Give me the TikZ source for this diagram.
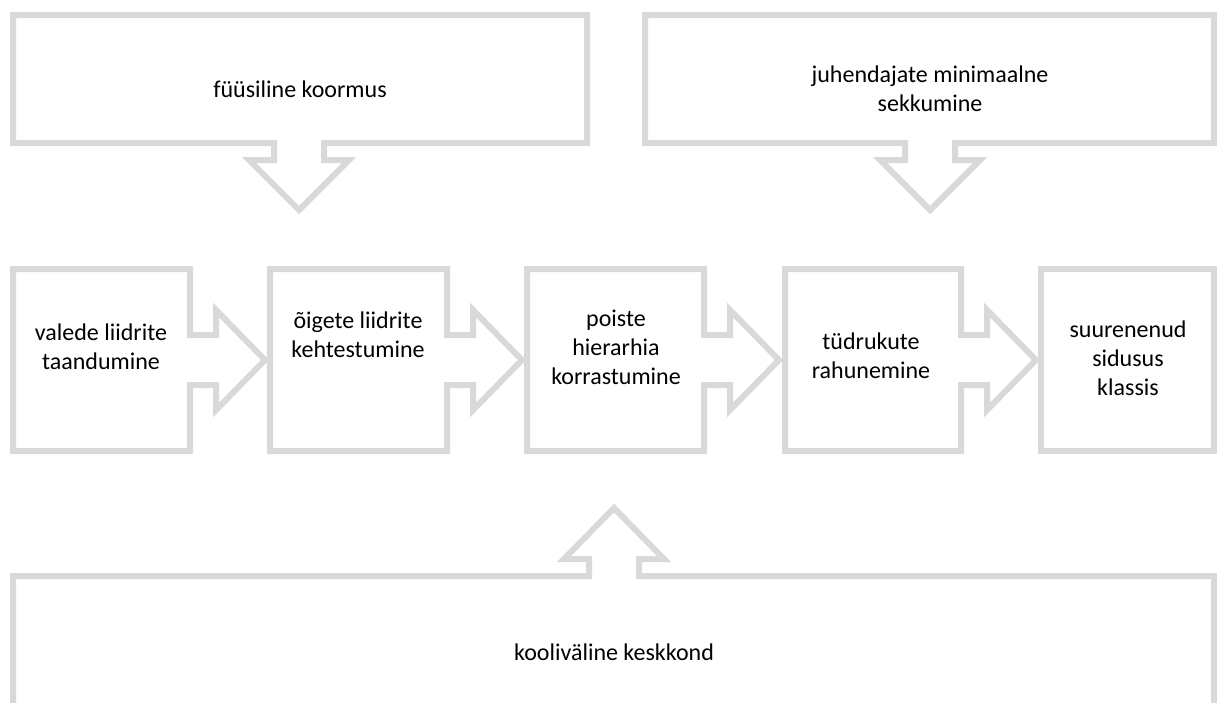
\documentclass[tikz,border=0pt]{standalone}
\usepackage{fontspec}
\setmainfont{Carlito}
\usetikzlibrary{calc}
\definecolor{ink}{HTML}{000000}
\definecolor{rim}{HTML}{D9D9D9}
\tikzset{
  every picture/.style={x=1pt, y=-1pt},
  callout/.style={draw=rim, line width=6pt, fill=white, line join=miter},
  caption/.style={text=ink, align=center, inner sep=0pt, font=\fontsize{24}{29}\selectfont},
}

\begin{document}
\begin{tikzpicture}
\useasboundingbox (0,0) rectangle (1217,702);
\clip (0,0) rectangle (1217,702);
% influences from above
\draw[callout] (13,15) -- (587,15) -- (587,143) -- (324,143) -- (324,160) -- (349,160) -- (299,210) -- (249,160) -- (274,160) -- (274,143) -- (13,143) -- cycle;
\draw[callout] (645,15) -- (1214,15) -- (1214,143) -- (955,143) -- (955,160) -- (980,160) -- (930,210) -- (880,160) -- (905,160) -- (905,143) -- (645,143) -- cycle;
% chain of steps
\foreach \l/\r in {13/190, 270/447, 527/704, 785/961}
  \draw[callout] (\l,269) -- (\r,269) -- (\r,335) -- (\r+26,335) -- (\r+26,310) -- (\r+75,360) -- (\r+26,410) -- (\r+26,385) -- (\r,385) -- (\r,451) -- (\l,451) -- cycle;
\draw[callout] (1041,269) rectangle (1214,451);
% influence from below
\draw[callout] (13,576) -- (589,576) -- (589,559) -- (564,559) -- (614,508) -- (664,559) -- (639,559) -- (639,576) -- (1214,576) -- (1214,730) -- (13,730) -- cycle;
\node[caption] (load) at (300,89) {füüsiline koormus};
\node[caption] (tutor) at (930,89) {juhendajate minimaalne\\sekkumine};
\node[caption] (false) at (101,347) {valede liidrite\\taandumine};
\node[caption] (true) at (358,335) {õigete liidrite\\kehtestumine};
\node[caption] (boys) at (616,347) {poiste\\hierarhia\\korrastumine};
\node[caption] (girls) at (871,356) {tüdrukute\\rahunemine};
\node[caption] (unity) at (1128,358) {suurenenud\\sidusus\\klassis};
\node[caption] (outer) at (614,652) {kooliväline keskkond};
\end{tikzpicture}
\end{document}
